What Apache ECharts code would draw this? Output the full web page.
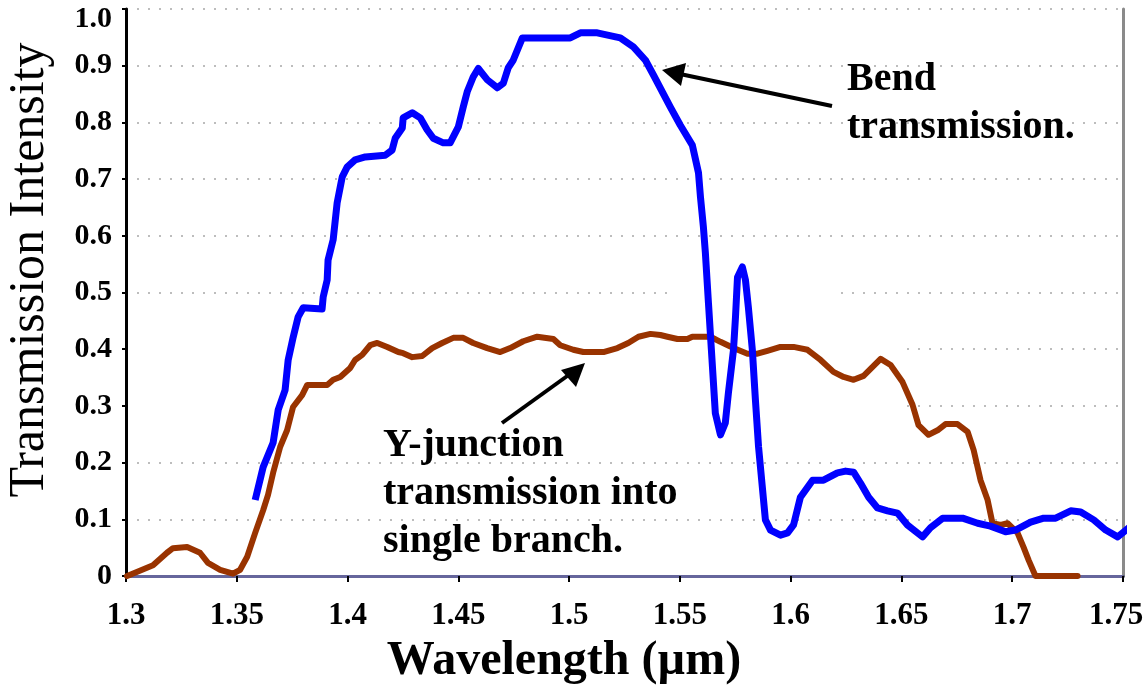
<!DOCTYPE html>
<html>
<head>
<meta charset="utf-8">
<script src="https://cdn.jsdelivr.net/npm/echarts@6/dist/echarts.min.js"></script>
<style>
  html, body { margin: 0; padding: 0; background: #fff; }
  #chart { width: 1144px; height: 696px; }
</style>
</head>
<body>
<div id="chart"></div>
<script>
// bend transmission (blue)
var bendWavelength = [1.3583, 1.3619, 1.3664, 1.3687, 1.3718, 1.3732, 1.3754, 1.3777, 1.3800, 1.3885,
  1.3890, 1.3908, 1.3912, 1.3935, 1.3953, 1.3967, 1.3976, 1.3998, 1.4034, 1.4080, 1.4089, 1.4170,
  1.4201, 1.4215, 1.4247, 1.4251, 1.4292, 1.4328, 1.4359, 1.4387, 1.4432, 1.4463, 1.4500, 1.4522,
  1.4540, 1.4567, 1.4590, 1.4631, 1.4676, 1.4703, 1.4725, 1.4748, 1.4789, 1.5005, 1.5051, 1.5127,
  1.5231, 1.5290, 1.5344, 1.5380, 1.5457, 1.5502, 1.5556, 1.5584, 1.5593, 1.5606, 1.5615, 1.5629,
  1.5642, 1.5660, 1.5683, 1.5705, 1.5719, 1.5742, 1.5751, 1.5760, 1.5782, 1.5796, 1.5809, 1.5827,
  1.5841, 1.5855, 1.5886, 1.5909, 1.5954, 1.5986, 1.6013, 1.6044, 1.6099, 1.6148, 1.6211, 1.6248,
  1.6284, 1.6315, 1.6352, 1.6392, 1.6437, 1.6482, 1.6527, 1.6595, 1.6631, 1.6686, 1.6776, 1.6844,
  1.6902, 1.6970, 1.7015, 1.7083, 1.7142, 1.7196, 1.7264, 1.7309, 1.7368, 1.7422, 1.7476, 1.7535, 1.7580, 1.7600];
var bendIntensity = [0.134, 0.192, 0.235, 0.293, 0.328, 0.381, 0.420, 0.457, 0.473, 0.471,
  0.492, 0.522, 0.557, 0.593, 0.658, 0.686, 0.704, 0.721, 0.734, 0.739, 0.742, 0.742,
  0.751, 0.772, 0.790, 0.808, 0.817, 0.808, 0.787, 0.772, 0.764, 0.764, 0.792, 0.827,
  0.854, 0.880, 0.895, 0.875, 0.861, 0.869, 0.896, 0.910, 0.949, 0.949, 0.958, 0.958,
  0.949, 0.933, 0.910, 0.884, 0.827, 0.795, 0.760, 0.711, 0.668, 0.616, 0.570, 0.481,
  0.400, 0.287, 0.249, 0.270, 0.323, 0.399, 0.457, 0.527, 0.545, 0.522, 0.474, 0.399,
  0.310, 0.228, 0.099, 0.081, 0.072, 0.076, 0.090, 0.139, 0.169, 0.169, 0.182, 0.185,
  0.183, 0.164, 0.139, 0.120, 0.115, 0.111, 0.090, 0.069, 0.085, 0.102, 0.102, 0.093,
  0.088, 0.078, 0.081, 0.095, 0.102, 0.102, 0.115, 0.113, 0.099, 0.081, 0.069, 0.088, 0.111, 0.122];

// Y-junction transmission into single branch (brown)
var yjWavelength = [1.3005, 1.3122, 1.3185, 1.3212, 1.3276, 1.3334, 1.3370, 1.3425, 1.3483, 1.3515,
  1.3547, 1.3583, 1.3619, 1.3641, 1.3664, 1.3696, 1.3727, 1.3754, 1.3795, 1.3818, 1.3908, 1.3935,
  1.3967, 1.4012, 1.4034, 1.4066, 1.4102, 1.4134, 1.4179, 1.4229, 1.4251, 1.4292, 1.4337, 1.4382,
  1.4427, 1.4477, 1.4522, 1.4567, 1.4630, 1.4689, 1.4734, 1.4793, 1.4856, 1.4929, 1.4960, 1.5019,
  1.5064, 1.5155, 1.5218, 1.5267, 1.5313, 1.5367, 1.5412, 1.5444, 1.5489, 1.5534, 1.5556, 1.5638,
  1.5683, 1.5742, 1.5805, 1.5850, 1.5895, 1.5954, 1.6013, 1.6076, 1.6135, 1.6193, 1.6239, 1.6284,
  1.6329, 1.6406, 1.6451, 1.6505, 1.6550, 1.6577, 1.6622, 1.6663, 1.6699, 1.6753, 1.6799, 1.6826,
  1.6857, 1.6889, 1.6911, 1.6948, 1.6979, 1.7024, 1.7051, 1.7074, 1.7105, 1.7150, 1.7196, 1.7295];
var yjIntensity = [0.000, 0.019, 0.041, 0.049, 0.051, 0.041, 0.023, 0.011, 0.004, 0.011,
  0.034, 0.076, 0.116, 0.143, 0.182, 0.228, 0.257, 0.298, 0.319, 0.337, 0.337, 0.346,
  0.351, 0.367, 0.381, 0.390, 0.407, 0.411, 0.404, 0.395, 0.393, 0.386, 0.388, 0.402,
  0.411, 0.420, 0.420, 0.411, 0.402, 0.395, 0.402, 0.414, 0.422, 0.418, 0.407, 0.399,
  0.395, 0.395, 0.402, 0.411, 0.422, 0.427, 0.425, 0.422, 0.418, 0.418, 0.422, 0.422,
  0.413, 0.402, 0.392, 0.392, 0.397, 0.404, 0.404, 0.399, 0.381, 0.360, 0.351, 0.346,
  0.353, 0.383, 0.372, 0.342, 0.302, 0.266, 0.249, 0.257, 0.268, 0.268, 0.254, 0.222,
  0.169, 0.134, 0.093, 0.090, 0.093, 0.076, 0.051, 0.028, 0.000, 0.000, 0.000, 0.000];

var xTicks = [1.3, 1.35, 1.4, 1.45, 1.5, 1.55, 1.6, 1.65, 1.7, 1.75];

function pairs(xs, ys) {
  return xs.map(function (x, i) { return [x, ys[i]]; });
}

var serif = '"Liberation Serif", "Times New Roman", serif';
var chart = echarts.init(document.getElementById('chart'), null, { renderer: 'canvas' });

var xLabelFont = { fontFamily: serif, fontWeight: 'bold', fontSize: 31, color: '#000' };
var yLabelFont = { fontFamily: serif, fontWeight: 'bold', fontSize: 30, color: '#000' };

var option = {
  backgroundColor: '#fff',
  animation: false,
  grid: { left: 126, right: 21, top: 9, bottom: 120, outerBoundsMode: 'none', containLabel: false },
  xAxis: [{
    type: 'value',
    min: xTicks[0],
    max: xTicks[xTicks.length - 1],
    interval: 0.05,
    axisLine: { lineStyle: { color: '#000', width: 3 } },
    axisTick: { show: true, length: 6, lineStyle: { color: '#000', width: 2 } },
    axisLabel: Object.assign({
      margin: 24,
      formatter: function (v) {
        var s = String(parseFloat(v.toFixed(2)));
        return v > 1.749 ? '{last|' + s + '}' : s;
      },
      rich: { last: Object.assign({ padding: [0, 14, 0, 0] }, xLabelFont) }
    }, xLabelFont),
    splitLine: { show: false }
  }, {
    type: 'value', position: 'top',
    min: xTicks[0], max: xTicks[xTicks.length - 1],
    axisLine: { show: true, lineStyle: { color: '#66669c', width: 3 } },
    axisTick: { show: false }, axisLabel: { show: false }, splitLine: { show: false }
  }],
  yAxis: [{
    type: 'value',
    min: 0, max: 1, interval: 0.1,
    axisLine: { show: true, lineStyle: { color: '#000', width: 3 } },
    axisTick: { show: true, length: 4, lineStyle: { color: '#000', width: 2 } },
    axisLabel: Object.assign({
      margin: 14,
      formatter: function (v) {
        if (v === 0) return '0';
        return v > 0.999 ? '{top|' + v.toFixed(1) + '}' : v.toFixed(1);
      },
      rich: { top: Object.assign({ padding: [20, 0, 0, 0] }, yLabelFont) }
    }, yLabelFont),
    splitLine: { show: true, lineStyle: { color: '#bdbdbd', width: 2, type: [2, 9] } }
  }, {
    type: 'value', position: 'right',
    min: 0, max: 1,
    axisLine: { show: true, lineStyle: { color: '#8a8a8a', width: 3 } },
    axisTick: { show: false }, axisLabel: { show: false }, splitLine: { show: false }
  }],
  series: [{
    name: 'Y-junction transmission into single branch.',
    type: 'line',
    data: pairs(yjWavelength, yjIntensity),
    showSymbol: false,
    clip: false,
    lineStyle: { color: '#993300', width: 6, join: 'round', cap: 'round' },
    z: 3
  }, {
    name: 'Bend transmission.',
    type: 'line',
    data: pairs(bendWavelength, bendIntensity),
    showSymbol: false,
    clip: false,
    lineStyle: { color: '#0000ff', width: 7, join: 'round', cap: 'butt' },
    z: 4
  }],
  graphic: [
    // white text-box backgrounds that hide part of the gridlines, as in the original slide
    { type: 'rect', z: 1, shape: { x: 129, y: 338, width: 772, height: 74 }, style: { fill: '#fff' } },
    { type: 'rect', z: 1, shape: { x: 672, y: 285, width: 160, height: 60 }, style: { fill: '#fff' } },
    {
      type: 'text', x: 30, y: 270, rotation: Math.PI / 2,
      style: {
        text: 'Transmission Intensity', font: 'normal 50px ' + serif,
        fill: '#000', align: 'center', verticalAlign: 'middle'
      }
    },
    {
      type: 'text', x: 564, y: 662,
      style: {
        text: 'Wavelength (\u00b5m)', font: 'bold 48px ' + serif,
        fill: '#000', align: 'center', verticalAlign: 'middle'
      }
    },
    {
      type: 'text', x: 847, y: 56, z: 10,
      style: {
        text: 'Bend\ntransmission.', font: 'bold 40px ' + serif, lineHeight: 48,
        fill: '#000', align: 'left', verticalAlign: 'top'
      }
    },
    {
      type: 'text', x: 383, y: 422, z: 10,
      style: {
        text: 'Y-junction\ntransmission into\nsingle branch.', font: 'bold 40px ' + serif, lineHeight: 48,
        fill: '#000', align: 'left', verticalAlign: 'top'
      }
    },
    { type: 'line', z: 10, shape: { x1: 832, y1: 106, x2: 680, y2: 74 }, style: { stroke: '#000', lineWidth: 4 } },
    { type: 'polygon', z: 10, shape: { points: [[662, 70], [686, 63], [681, 86]] }, style: { fill: '#000' } },
    { type: 'line', z: 10, shape: { x1: 502, y1: 423, x2: 570, y2: 374 }, style: { stroke: '#000', lineWidth: 4 } },
    { type: 'polygon', z: 10, shape: { points: [[585, 363], [561, 370], [576, 387]] }, style: { fill: '#000' } }
  ]
};
chart.setOption(option);
</script>
</body>
</html>
